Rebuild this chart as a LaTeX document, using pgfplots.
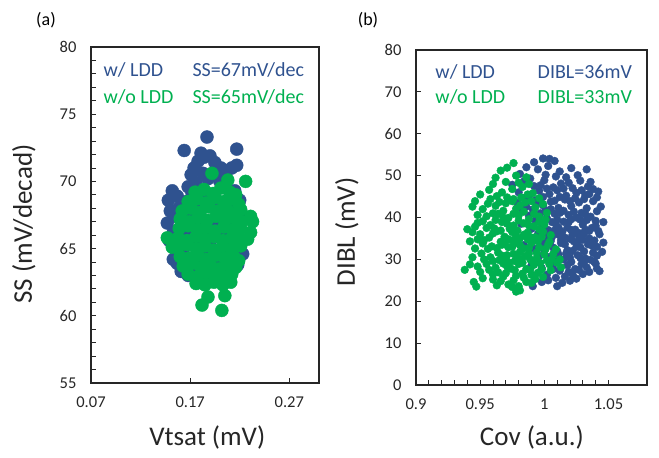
\documentclass[border=0pt]{standalone}
\usepackage{fontspec}
\setmainfont{Carlito}
\usepackage{pgfplots}
\pgfplotsset{compat=1.18}
\definecolor{cblue}{RGB}{47,82,143}
\definecolor{cgreen}{RGB}{0,176,80}

\pgfplotsset{
  panel/.style={
    scale only axis,
    axis line style={line width=1.1pt, black!85},
    tick style={line width=0.9pt, black!85},
    tick align=inside, tick pos=left,
    major tick length=5pt, minor tick length=5pt,
    tick label style={font=\fontsize{16.5}{19}\selectfont, text=black!85},
    label style={font=\fontsize{27}{31}\selectfont, text=black!85},
    /pgf/number format/assume math mode=true,
    xticklabel shift=10pt, yticklabel shift=11pt,
  },
  dots/.style={only marks, mark=*, mark size=#1, mark options={draw=none}},
}

\begin{document}
\begin{tikzpicture}
\path (0pt,0pt) rectangle (659pt,458pt);

\node[font=\fontsize{18}{21}\selectfont] at (46pt,438pt) {(a)};
\node[font=\fontsize{18}{21}\selectfont] at (368pt,438pt) {(b)};

% ---------------- (a) ----------------
\begin{axis}[panel, at={(91pt,75pt)}, anchor=south west,
  width=228pt, height=336pt,
  xmin=0.07, xmax=0.30, ymin=55, ymax=80,
  xtick={0.07,0.17,0.27}, xticklabels={0.07,0.17,0.27},
  ytick={55,60,...,80}, minor y tick num=4,
  xlabel={Vtsat (mV)}, ylabel={SS (mV/decad)},
  xlabel style={at={(axis description cs:0.51,-0.163)}, anchor=center},
  ylabel style={at={(axis description cs:-0.294,0.473)}, anchor=center},
]
\addplot[dots=6.5pt, cblue] table {
0.187 73.3
0.164 72.3
0.217 72.4
0.217 71.2
0.181 72.1
0.184 71.8
0.178 71.5
0.190 71.9
0.195 71.4
0.201 71.0
0.207 70.8
0.212 71.0
0.174 71.0
0.171 70.5
0.183 70.6
0.188 70.2
0.196 70.5
0.176 69.9
0.168 69.6
0.172 69.1
0.200 70.0
0.205 69.6
0.152 69.3
0.148 68.6
0.157 68.9
0.150 67.8
0.155 67.4
0.147 66.9
0.153 66.2
0.149 65.6
0.156 65.0
0.153 64.2
0.157 63.9
0.161 63.3
0.158 68.0
0.162 67.0
0.160 66.0
0.163 65.0
0.165 64.4
0.166 68.5
0.168 67.3
0.168 63.0
0.176 62.8
0.185 63.0
0.193 62.7
0.200 62.9
0.208 63.1
0.172 63.5
0.220 68.6
0.222 67.5
0.219 66.6
0.221 65.4
0.223 64.6
0.218 63.8
0.215 69.3
0.211 68.2
0.175 68.0
0.180 67.1
0.186 66.3
0.192 68.7
0.198 67.9
0.204 66.8
0.210 65.9
0.178 65.5
0.184 64.6
0.190 65.2
0.196 64.1
0.202 65.7
0.171 66.2
0.176 64.2
0.188 68.9
0.194 66.9
0.207 64.6
0.182 69.3
0.213 67.0
0.199 63.7
};
\addplot[dots=6.5pt, cgreen] table {
0.192 70.6
0.226 70.0
0.208 70.1
0.231 67.4
0.233 67.0
0.231 66.2
0.228 65.7
0.147 65.8
0.152 65.1
0.188 61.4
0.182 60.8
0.205 61.5
0.202 60.4
0.175 69.2
0.184 69.4
0.193 69.1
0.201 69.5
0.210 69.2
0.216 69.0
0.168 68.5
0.177 68.7
0.186 68.4
0.195 68.8
0.204 68.5
0.213 68.7
0.219 68.3
0.162 67.8
0.171 68.0
0.180 67.7
0.189 68.1
0.198 67.8
0.207 67.9
0.216 67.6
0.221 67.9
0.160 67.2
0.169 67.0
0.178 67.3
0.187 67.1
0.196 67.4
0.205 67.1
0.214 67.3
0.222 67.0
0.159 66.5
0.168 66.7
0.177 66.4
0.186 66.6
0.195 66.3
0.204 66.6
0.213 66.4
0.221 66.5
0.158 65.8
0.167 65.6
0.176 65.9
0.185 65.7
0.194 65.9
0.203 65.6
0.212 65.8
0.220 65.7
0.158 65.1
0.167 65.3
0.176 65.0
0.185 65.2
0.194 64.9
0.203 65.2
0.212 65.0
0.221 65.2
0.160 64.4
0.169 64.3
0.178 64.5
0.187 64.2
0.196 64.5
0.205 64.3
0.214 64.4
0.219 64.1
0.163 63.7
0.172 63.9
0.181 63.6
0.190 63.8
0.199 63.5
0.208 63.8
0.216 63.6
0.168 63.1
0.177 62.9
0.186 63.2
0.195 63.0
0.204 62.9
0.212 63.1
0.176 62.4
0.185 62.3
0.194 62.5
0.203 62.3
0.211 62.5
};
\node[anchor=west, text=cblue, font=\fontsize{20}{24}\selectfont] at (rel axis cs:0.04,0.932) {w/ LDD};
\node[anchor=west, text=cgreen, font=\fontsize{20}{24}\selectfont] at (rel axis cs:0.04,0.851) {w/o LDD};
\node[anchor=east, text=cblue, font=\fontsize{20}{24}\selectfont] at (rel axis cs:0.95,0.932) {SS=67mV/dec};
\node[anchor=east, text=cgreen, font=\fontsize{20}{24}\selectfont] at (rel axis cs:0.95,0.851) {SS=65mV/dec};
\end{axis}

% ---------------- (b) ----------------
\begin{axis}[panel, at={(416pt,73pt)}, anchor=south west,
  width=231pt, height=335pt,
  xmin=0.9, xmax=1.08, ymin=0, ymax=80,
  xtick={0.9,0.95,1,1.05}, xticklabels={0.9,0.95,1,1.05},
  minor x tick num=4,
  ytick={0,10,...,80},
  xlabel={Cov (a.u.)}, ylabel={DIBL (mV)},
  xlabel style={at={(axis description cs:0.502,-0.158)}, anchor=center},
  ylabel style={at={(axis description cs:-0.299,0.457)}, anchor=center},
]
\addplot[dots=3.9pt, cblue] table {
0.992 53.2
0.999 54.1
1.004 54.0
1.008 53.5
0.986 52.0
0.995 51.5
1.012 51.0
1.021 51.8
1.033 51.5
0.981 50.4
1.001 50.2
1.017 49.6
0.975 47.8
0.984 48.6
0.992 47.5
1.000 48.9
1.007 47.2
1.013 48.1
1.022 47.0
1.028 48.8
1.038 46.8
1.042 46.2
0.980 46.0
0.988 45.3
0.996 46.4
1.004 45.6
1.010 46.5
1.017 45.2
1.025 45.9
1.032 45.3
0.979 43.5
0.986 42.6
0.993 44.1
0.999 42.9
1.005 43.8
1.011 42.3
1.016 44.3
1.021 42.7
1.027 43.6
1.033 42.2
1.038 43.9
1.029 41.1
1.019 40.6
1.008 40.9
0.997 41.0
0.988 40.4
1.036 40.2
1.041 41.5
0.983 41.8
0.982 38.5
0.990 37.3
0.997 38.9
1.003 37.0
1.009 38.4
1.014 36.6
1.019 38.9
1.024 37.1
1.030 38.3
1.035 36.8
1.040 38.0
1.043 36.0
0.986 35.6
0.995 36.0
1.006 35.4
1.016 35.2
1.027 35.6
1.033 39.4
1.021 39.6
0.984 33.4
0.992 32.6
1.000 34.1
1.007 32.8
1.013 33.9
1.018 32.2
1.023 34.3
1.028 32.9
1.034 33.6
1.038 31.6
1.041 33.0
0.996 30.8
1.004 30.6
1.011 31.2
1.020 30.4
1.026 31.0
1.032 30.2
1.036 29.9
0.990 28.6
0.998 27.9
1.005 28.9
1.012 27.3
1.018 28.6
1.024 27.7
1.029 28.9
1.041 27.8
1.043 27.2
1.035 27.0
1.009 25.6
1.016 25.9
1.014 24.4
0.991 23.6
1.022 26.4
1.002 26.3
1.012 44.9
1.024 44.6
1.031 44.4
1.015 41.6
1.025 40.0
1.010 39.5
1.002 39.8
1.018 37.6
1.027 36.3
1.013 34.6
1.022 35.9
1.030 34.7
1.008 36.9
1.017 31.4
1.025 33.0
1.035 35.0
1.005 42.0
0.994 43.3
1.040 39.2
1.045 31.8
1.021 29.4
1.031 29.4
1.008 29.6
1.003 52.3
0.989 49.3
1.009 49.8
1.026 50.1
1.036 48.5
0.997 47.7
1.019 48.3
1.034 47.4
1.002 46.9
1.015 46.9
1.029 46.5
0.985 44.7
0.999 44.9
1.008 44.0
1.020 43.9
1.035 45.6
1.041 44.8
0.991 41.9
1.001 41.7
1.012 41.1
1.023 41.4
1.032 40.8
1.044 42.6
0.993 39.3
1.006 38.9
1.015 39.0
1.028 39.5
1.037 37.5
1.046 38.9
0.999 37.4
1.011 37.6
1.021 37.0
1.032 37.1
1.042 36.8
1.002 35.5
1.011 35.9
1.020 34.9
1.031 36.1
1.039 34.5
0.997 33.2
1.005 34.4
1.016 33.6
1.027 34.5
1.037 33.3
1.046 34.0
1.010 32.0
1.022 32.0
1.031 31.9
1.041 30.9
1.000 32.1
1.015 30.0
1.028 30.4
1.039 29.4
0.995 29.5
1.007 27.7
1.019 27.0
1.027 27.5
1.033 28.1
1.040 29.0
1.003 25.0
1.010 23.6
1.025 25.4
0.998 24.6
1.030 26.5
1.020 24.9
};
\addplot[dots=3.9pt, cgreen] table {
0.976 53.0
0.966 51.2
0.962 49.5
0.970 48.5
0.986 49.6
0.978 50.0
0.957 46.6
0.958 44.4
0.967 46.0
0.975 46.8
0.983 47.3
0.991 45.8
0.946 43.9
0.944 42.6
0.952 42.0
0.962 42.8
0.970 43.4
0.978 42.1
0.985 43.6
0.993 42.4
0.955 40.3
0.964 40.9
0.972 39.9
0.980 40.5
0.988 39.6
0.996 40.2
1.002 41.1
0.948 38.7
0.958 38.2
0.967 38.9
0.976 38.1
0.984 38.6
0.992 37.9
1.000 38.3
0.940 37.2
0.944 36.5
0.950 36.0
0.957 35.2
0.963 36.7
0.969 35.4
0.975 36.5
0.981 35.0
0.987 36.4
0.993 35.3
0.999 36.6
1.005 35.8
0.952 33.8
0.959 33.1
0.966 34.2
0.972 32.9
0.978 34.0
0.984 32.6
0.990 33.9
0.996 32.8
1.003 33.5
1.009 32.4
0.946 32.6
0.942 34.3
0.951 31.4
0.958 30.5
0.964 31.6
0.970 30.2
0.976 31.3
0.982 30.0
0.988 31.4
0.994 30.3
1.000 31.2
1.006 30.1
1.012 30.0
0.955 28.9
0.962 28.0
0.968 29.0
0.974 27.8
0.980 28.9
0.986 27.7
0.992 28.7
0.998 27.6
1.004 28.8
1.013 28.1
0.938 27.5
0.948 28.3
0.960 26.4
0.970 26.7
0.978 26.1
0.990 26.3
0.945 24.6
0.947 23.5
0.966 24.8
0.972 24.0
0.980 23.6
0.981 22.6
0.986 24.6
0.993 25.3
0.999 25.8
0.976 25.0
0.973 37.3
0.979 36.9
0.967 33.5
0.975 33.0
0.981 31.8
0.971 31.0
0.965 29.8
0.977 29.6
0.983 29.2
0.987 34.8
0.961 37.4
0.955 37.5
0.995 34.3
1.002 29.8
0.989 30.0
0.996 38.9
0.968 41.6
0.982 44.8
0.976 44.4
0.971 51.9
0.960 48.0
0.980 48.3
0.988 48.0
0.963 45.1
0.971 44.8
0.950 45.5
0.987 45.5
0.996 44.6
0.956 43.3
0.965 43.7
0.975 43.9
0.981 42.9
0.990 43.9
0.999 43.2
0.948 40.6
0.960 41.0
0.968 40.0
0.976 40.9
0.984 41.4
0.992 40.9
1.001 39.5
0.952 39.1
0.962 39.4
0.971 38.5
0.980 39.3
0.988 38.1
0.996 37.1
0.946 37.8
0.953 34.6
0.960 36.2
0.966 36.9
0.972 34.8
0.978 35.6
0.984 35.9
0.990 35.2
0.998 35.4
1.004 34.2
0.948 34.8
0.956 32.5
0.963 32.7
0.969 33.6
0.975 34.5
0.981 33.4
0.988 32.7
0.994 31.6
1.001 32.5
1.007 31.3
0.944 30.5
0.953 30.0
0.960 29.6
0.967 30.9
0.973 29.2
0.979 30.6
0.985 30.8
0.991 29.4
0.997 29.1
1.005 27.4
1.010 29.2
0.942 28.8
0.950 27.0
0.957 27.5
0.964 26.9
0.971 28.3
0.977 27.4
0.983 26.6
0.989 27.5
0.995 26.8
0.952 25.5
0.960 25.2
0.968 25.9
0.975 23.4
0.984 25.6
0.990 24.4
0.978 22.3
0.963 23.8
};
\node[anchor=west, text=cblue, font=\fontsize{20}{24}\selectfont] at (rel axis cs:0.069,0.934) {w/ LDD};
\node[anchor=west, text=cgreen, font=\fontsize{20}{24}\selectfont] at (rel axis cs:0.069,0.860) {w/o LDD};
\node[anchor=east, text=cblue, font=\fontsize{20}{24}\selectfont] at (rel axis cs:0.95,0.934) {DIBL=36mV};
\node[anchor=east, text=cgreen, font=\fontsize{20}{24}\selectfont] at (rel axis cs:0.95,0.860) {DIBL=33mV};
\end{axis}
\end{tikzpicture}
\end{document}
